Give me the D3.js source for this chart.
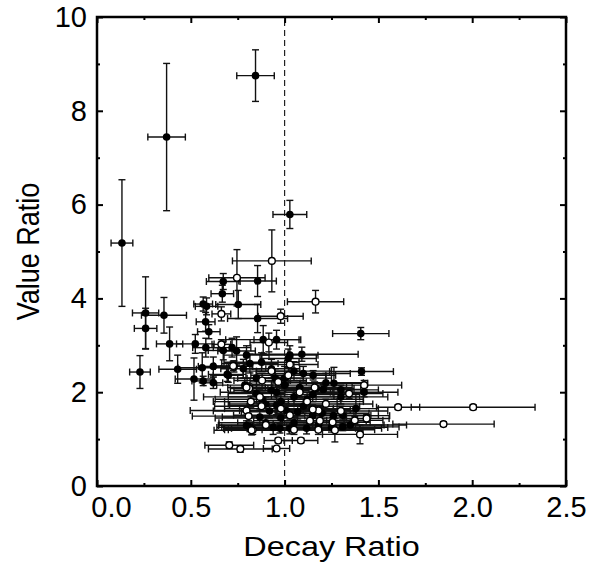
<!DOCTYPE html>
<html>
<head>
<meta charset="utf-8">
<script src="https://cdn.jsdelivr.net/npm/d3@7"></script>
<style>
  body { margin: 0; background: #fff; }
  text { font-family: 'Liberation Sans', Arial, sans-serif; fill: #000; }
</style>
</head>
<body>
<div id="chart"></div>
<script>
// filled markers
const filledX    = [0.845, 1.028, 0.371, 0.133, 0.673, 0.856, 0.259, 0.259, 0.357, 0.387, 0.524, 0.229, 0.566, 0.584, 0.668, 0.753, 0.579, 0.596, 0.856, 0.430, 0.561, 0.517, 0.566, 0.620, 0.694, 0.673, 0.744, 0.797, 0.886, 0.957, 1.019, 1.092, 0.788, 0.850, 0.930, 0.957, 0.868, 0.797, 0.939, 0.975, 1.028, 1.117, 1.010, 1.070, 1.263, 1.406, 1.410, 1.424, 1.380, 1.310, 1.310, 1.152, 1.170, 1.206, 0.815, 0.877, 0.700, 1.028, 1.100, 0.815, 0.957, 1.050, 1.120, 0.980, 1.150, 0.900, 1.000,
                    1.000, 1.080, 1.150, 1.220, 0.950, 1.050, 0.920, 1.100, 1.200, 1.260, 0.880, 0.980, 1.300, 1.250, 1.180, 0.900, 0.850, 0.780, 0.720, 0.620, 0.580, 1.300, 1.350, 1.050, 0.930];
const filledY    = [8.75, 5.79, 7.44, 5.18, 4.36, 4.37, 3.69, 3.36, 3.64, 3.03, 3.03, 2.43, 3.88, 3.83, 4.10, 3.87, 3.50, 3.29, 3.57, 2.49, 2.52, 2.28, 2.24, 2.20, 2.38, 2.89, 2.88, 2.79, 3.12, 3.12, 2.72, 2.81, 2.15, 1.97, 2.04, 1.72, 1.47, 1.29, 1.25, 1.23, 1.23, 1.23, 1.61, 1.58, 2.19, 3.25, 2.44, 2.00, 1.65, 1.51, 1.26, 2.36, 2.08, 2.06, 2.61, 2.64, 2.36, 2.79, 2.40, 1.26, 2.00, 1.90, 1.85, 1.45, 1.50, 1.75, 2.30,
                    2.15, 2.10, 1.95, 2.20, 2.30, 2.45, 1.60, 1.70, 1.55, 1.50, 1.85, 1.80, 1.90, 1.25, 1.30, 1.35, 2.30, 2.50, 2.95, 2.55, 2.95, 2.05, 1.30, 1.35, 2.50];
const filledXErr = [0.10, 0.09, 0.10, 0.058, 0.09, 0.10, 0.07, 0.06, 0.12, 0.07, 0.10, 0.055, 0.05, 0.06, 0.06, 0.12, 0.05, 0.06, 0.16, 0.10, 0.13, 0.10, 0.06, 0.05, 0.10, 0.08, 0.10, 0.12, 0.20, 0.12, 0.15, 0.30, 0.15, 0.15, 0.20, 0.25, 0.20, 0.15, 0.30, 0.30, 0.35, 0.40, 0.25, 0.30, 0.18, 0.15, 0.17, 0.18, 0.12, 0.15, 0.30, 0.12, 0.20, 0.20, 0.15, 0.20, 0.08, 0.15, 0.25, 0.15, 0.30, 0.35, 0.30, 0.35, 0.35, 0.20, 0.25,
                    0.20, 0.25, 0.20, 0.20, 0.15, 0.20, 0.30, 0.30, 0.25, 0.30, 0.25, 0.30, 0.25, 0.30, 0.35, 0.25, 0.15, 0.12, 0.10, 0.08, 0.07, 0.20, 0.30, 0.30, 0.15];
const filledYErr = [0.55, 0.30, 1.57, 1.35, 0.17, 0.33, 0.77, 0.43, 0.38, 0.36, 0.20, 0.35, 0.15, 0.18, 0.18, 0.30, 0.20, 0.15, 0.30, 0.30, 0.32, 0.45, 0.10, 0.12, 0.15, 0.20, 0.30, 0.20, 0.30, 0.20, 0.20, 0.15, 0.15, 0.20, 0.20, 0.20, 0.15, 0.10, 0.15, 0.10, 0.12, 0.12, 0.15, 0.15, 0.34, 0.13, 0.08, 0.10, 0.30, 0.10, 0.08, 0.10, 0.10, 0.10, 0.20, 0.20, 0.15, 0.20, 0.15, 0.10, 0.20, 0.20, 0.15, 0.15, 0.15, 0.15, 0.25,
                    0.20, 0.15, 0.15, 0.20, 0.20, 0.20, 0.15, 0.15, 0.12, 0.10, 0.15, 0.15, 0.15, 0.10, 0.10, 0.12, 0.20, 0.20, 0.20, 0.20, 0.20, 0.10, 0.10, 0.12, 0.20];

// open markers
const openX    = [0.746, 0.932, 1.165, 0.663, 0.979, 0.916, 0.663, 1.028, 0.730, 0.811, 0.868, 0.797, 0.808, 0.830, 0.705, 0.764, 0.966, 0.957, 1.087, 1.181, 1.188, 1.268, 1.402, 1.344, 1.424, 1.605, 2.005, 1.847, 1.374, 1.437, 1.150, 1.256, 1.028, 1.135, 0.966, 0.877, 0.726, 0.824, 1.020, 0.797,
                  0.930, 1.080, 0.980, 1.120, 1.220, 0.900, 1.050, 1.300, 0.880, 1.180, 0.820, 1.160];
const openY    = [4.44, 4.80, 3.93, 3.67, 3.62, 3.06, 3.02, 2.59, 2.55, 2.08, 1.90, 1.61, 1.49, 1.20, 0.87, 0.79, 0.97, 0.80, 0.97, 1.61, 1.39, 1.19, 1.10, 1.97, 2.15, 1.68, 1.68, 1.32, 1.40, 1.44, 1.63, 1.36, 1.51, 1.39, 2.22, 1.70, 2.56, 1.19, 2.36, 2.10,
                  2.45, 2.00, 1.65, 1.80, 1.75, 1.30, 1.20, 1.60, 2.25, 1.20, 1.80, 2.10];
const openXErr = [0.15, 0.21, 0.15, 0.05, 0.12, 0.10, 0.05, 0.15, 0.10, 0.10, 0.30, 0.30, 0.30, 0.15, 0.13, 0.17, 0.075, 0.07, 0.09, 0.20, 0.20, 0.15, 0.20, 0.18, 0.20, 0.115, 0.33, 0.27, 0.15, 0.12, 0.20, 0.20, 0.30, 0.30, 0.15, 0.25, 0.10, 0.20, 0.20, 0.10,
                  0.15, 0.25, 0.30, 0.30, 0.25, 0.25, 0.35, 0.25, 0.15, 0.30, 0.20, 0.20];
const openYErr = [0.60, 0.66, 0.24, 0.15, 0.15, 0.20, 0.10, 0.15, 0.12, 0.10, 0.15, 0.10, 0.10, 0.10, 0.07, 0.07, 0.05, 0.04, 0.05, 0.10, 0.10, 0.25, 0.20, 0.10, 0.10, 0.05, 0.05, 0.05, 0.08, 0.08, 0.10, 0.10, 0.10, 0.10, 0.10, 0.10, 0.10, 0.10, 0.15, 0.10,
                  0.15, 0.12, 0.12, 0.12, 0.10, 0.10, 0.10, 0.10, 0.15, 0.10, 0.12, 0.12];

const xMajor = [0, 0.5, 1.0, 1.5, 2.0, 2.5],
      xTickLabels = ['0.0', '0.5', '1.0', '1.5', '2.0', '2.5'],
      xMinor = [0.25, 0.75, 1.25, 1.75, 2.25];
const yMajor = [0, 2, 4, 6, 8, 10],
      yTickLabels = ['0', '2', '4', '6', '8', '10'],
      yMinor = [1, 3, 5, 7, 9];

const margin = { top: 17, right: 26, bottom: 81, left: 97 },
      width = 592 - margin.left - margin.right,
      height = 567 - margin.top - margin.bottom;

const xScale = d3.scaleLinear().domain([0, 2.5]).range([0, width]);
const yScale = d3.scaleLinear().domain([0, 10]).range([height, 0]);

const svg = d3.select('#chart').append('svg')
      .attr('width', 592)
      .attr('height', 567);

const wrapper = svg.append('g')
      .attr('transform', 'translate(' + margin.left + ',' + margin.top + ')');

// reference line at ratio 1
wrapper.append('line')
      .attr('x1', xScale(1)).attr('x2', xScale(1))
      .attr('y1', yScale(0)).attr('y2', yScale(10))
      .style('stroke', '#222')
      .style('stroke-width', 1.2)
      .style('stroke-dasharray', '6,4');

function series(xs, ys, xe, ye) {
  return xs.map((x, i) => ({ x: x, y: ys[i], xe: xe[i], ye: ye[i] }));
}
const filled = series(filledX, filledY, filledXErr, filledYErr);
const open = series(openX, openY, openXErr, openYErr);

const cap = 3.5;
function drawErrors(g, data) {
  const e = g.selectAll('g').data(data).enter().append('g')
      .style('stroke', '#111')
      .style('stroke-width', 1.4);
  e.append('line')
      .attr('x1', d => xScale(d.x - d.xe)).attr('x2', d => xScale(d.x + d.xe))
      .attr('y1', d => yScale(d.y)).attr('y2', d => yScale(d.y));
  e.append('line')
      .attr('x1', d => xScale(d.x)).attr('x2', d => xScale(d.x))
      .attr('y1', d => yScale(d.y - d.ye)).attr('y2', d => yScale(d.y + d.ye));
  [-1, 1].forEach(s => {
    e.append('line')
        .attr('x1', d => xScale(d.x + s * d.xe)).attr('x2', d => xScale(d.x + s * d.xe))
        .attr('y1', d => yScale(d.y) - cap).attr('y2', d => yScale(d.y) + cap);
    e.append('line')
        .attr('x1', d => xScale(d.x) - cap).attr('x2', d => xScale(d.x) + cap)
        .attr('y1', d => yScale(d.y + s * d.ye)).attr('y2', d => yScale(d.y + s * d.ye));
  });
}
drawErrors(wrapper.append('g'), filled);
drawErrors(wrapper.append('g'), open);

wrapper.append('g').selectAll('circle')
      .data(filled)
    .enter().append('circle')
      .attr('cx', d => xScale(d.x))
      .attr('cy', d => yScale(d.y))
      .attr('r', 3.8)
      .style('fill', '#000');

wrapper.append('g').selectAll('circle')
      .data(open)
    .enter().append('circle')
      .attr('cx', d => xScale(d.x))
      .attr('cy', d => yScale(d.y))
      .attr('r', 3.4)
      .style('fill', '#fff')
      .style('stroke', '#000')
      .style('stroke-width', 1.4);

// axes, ticks pointing inward
function styleAxis(g) {
  g.select('.domain').remove();
  g.selectAll('.tick line').style('stroke', '#000').style('stroke-width', 2);
  g.selectAll('.tick text').style('font-size', '29px').style('fill', '#000')
      .style('font-family', "'Liberation Sans', Arial, sans-serif");
}

wrapper.append('g')
      .attr('transform', 'translate(0,' + height + ')')
      .call(d3.axisBottom(xScale).tickValues(xMajor).tickSize(-6).tickPadding(10)
            .tickFormat((d, i) => xTickLabels[i]))
      .call(styleAxis)
      .call(g => g.selectAll('.tick text').filter(d => d === 0).attr('dx', 14));
wrapper.append('g')
      .attr('transform', 'translate(0,' + height + ')')
      .call(d3.axisBottom(xScale).tickValues(xMinor).tickSize(-3).tickFormat(''))
      .call(styleAxis);
wrapper.append('g')
      .call(d3.axisTop(xScale).tickValues(xMajor).tickSize(-6).tickFormat(''))
      .call(styleAxis);
wrapper.append('g')
      .call(d3.axisTop(xScale).tickValues(xMinor).tickSize(-3).tickFormat(''))
      .call(styleAxis);

wrapper.append('g')
      .call(d3.axisLeft(yScale).tickValues(yMajor).tickSize(-6).tickPadding(10)
            .tickFormat((d, i) => yTickLabels[i]))
      .call(styleAxis);
wrapper.append('g')
      .call(d3.axisLeft(yScale).tickValues(yMinor).tickSize(-3).tickFormat(''))
      .call(styleAxis);
wrapper.append('g')
      .attr('transform', 'translate(' + width + ',0)')
      .call(d3.axisRight(yScale).tickValues(yMajor).tickSize(-6).tickFormat(''))
      .call(styleAxis);
wrapper.append('g')
      .attr('transform', 'translate(' + width + ',0)')
      .call(d3.axisRight(yScale).tickValues(yMinor).tickSize(-3).tickFormat(''))
      .call(styleAxis);

wrapper.append('rect')
      .attr('width', width)
      .attr('height', height)
      .style('fill', 'none')
      .style('stroke', '#000')
      .style('stroke-width', 2.5);

svg.append('text')
      .attr('transform', 'translate(' + (margin.left + width / 2) + ',556) scale(1.2,1)')
      .attr('text-anchor', 'middle')
      .style('font-size', '27px')
      .text('Decay Ratio');

svg.append('text')
      .attr('transform', 'translate(39,' + (margin.top + height / 2) + ') scale(1.15,1) rotate(-90)')
      .attr('text-anchor', 'middle')
      .style('font-size', '27px')
      .text('Value Ratio');
</script>
</body>
</html>
